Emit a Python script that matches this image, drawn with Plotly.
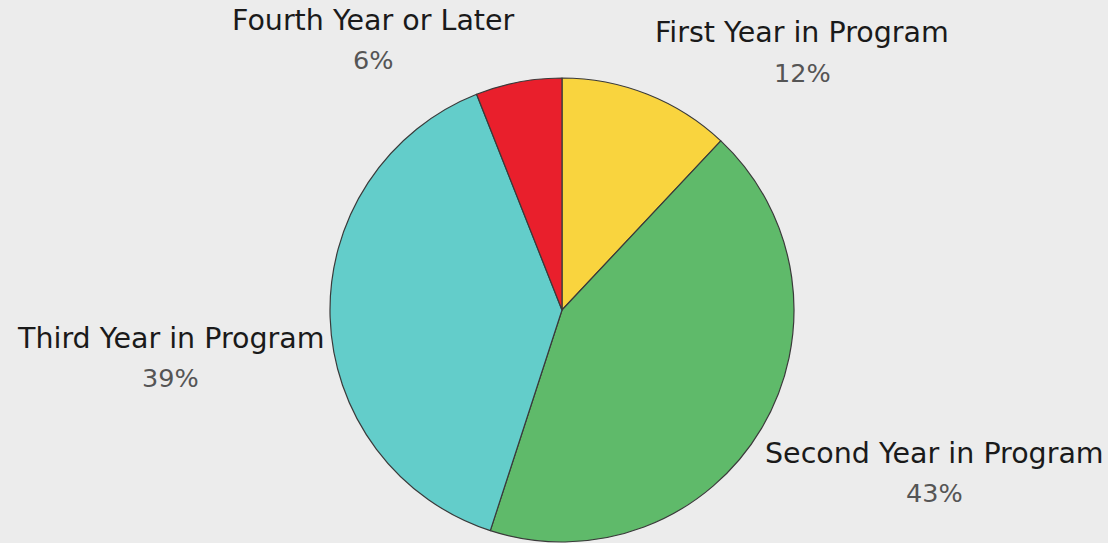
import plotly.graph_objects as go

categories = ["First Year in Program", "Second Year in Program", "Third Year in Program", "Fourth Year or Later"]
values = [12, 43, 39, 6]
colors = ["#F9D43E", "#5FBA6A", "#63CDCA", "#E91F2C"]

# label anchor positions in pixels (layout only)
label_pos = {
    "First Year in Program": (802, 33),
    "Second Year in Program": (934, 453),
    "Third Year in Program": (170, 338),
    "Fourth Year or Later": (373, 20),
}

W, H = 1108, 543
total = sum(values)
FONT = "DejaVu Sans"

fig = go.Figure(go.Pie(
    labels=categories,
    values=values,
    marker=dict(colors=colors, line=dict(color="#3a3a3a", width=1.2)),
    sort=False,
    direction="clockwise",
    rotation=0,
    textinfo="none",
    hoverinfo="label+percent",
    domain=dict(x=[330 / W, 794 / W], y=[1 - 542 / H, 1 - 78 / H]),
    showlegend=False,
))

annotations = []
for cat, v in zip(categories, values):
    x, y = label_pos[cat]
    annotations.append(dict(x=x / W, y=1 - y / H, xref="paper", yref="paper",
                            text=cat, showarrow=False, xanchor="center", yanchor="middle",
                            font=dict(family=FONT, size=28.5, color="#1a1a1a")))
    annotations.append(dict(x=x / W, y=1 - (y + 40) / H, xref="paper", yref="paper",
                            text=f"{round(v / total * 100)}%", showarrow=False,
                            xanchor="center", yanchor="middle",
                            font=dict(family=FONT, size=25.5, color="#555555")))

fig.update_layout(
    width=W, height=H,
    margin=dict(l=0, r=0, t=0, b=0),
    paper_bgcolor="#ececec",
    plot_bgcolor="#ececec",
    annotations=annotations,
)

fig.write_html(
    "out.html",
    config={"displayModeBar": False},
    post_script="document.body.style.margin='0';document.body.style.overflow='hidden';document.body.style.background='#ececec';",
)
